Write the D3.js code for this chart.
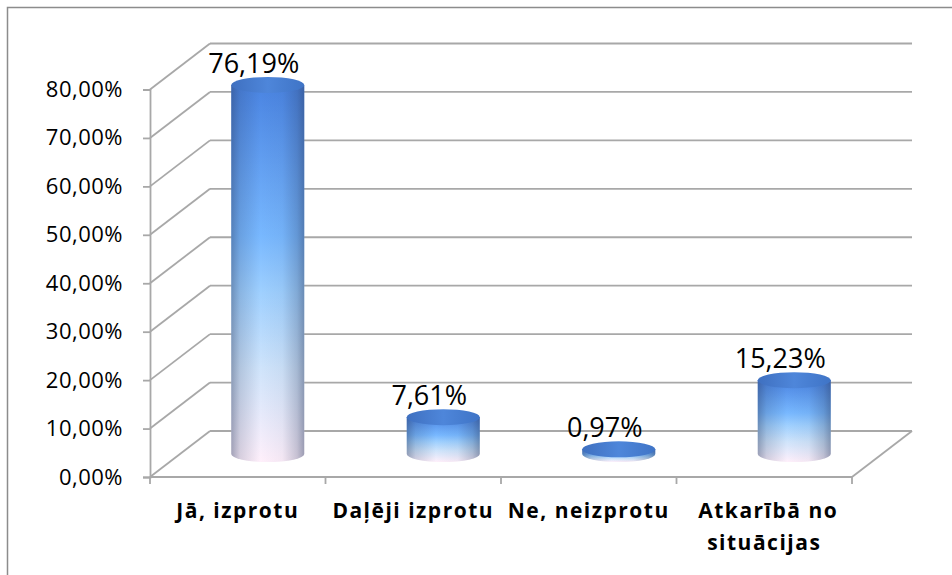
<!DOCTYPE html>
<html>
<head>
<meta charset="utf-8">
<script src="https://cdn.jsdelivr.net/npm/d3@7"></script>
<style>
  body { margin: 0; background: #fff; }
  svg { display: block; font-family: "Open Sans", sans-serif; }
</style>
</head>
<body>
<svg width="952" height="575"></svg>
<script>
// chart data
const categories = ['Jā, izprotu', 'Daļēji izprotu', 'Ne, neizprotu', 'Atkarībā no situācijas'];
const values = [0.7619, 0.0761, 0.0097, 0.1523];
const valueLabels = ['76,19%', '7,61%', '0,97%', '15,23%'];
const yTicks = [0, 0.1, 0.2, 0.3, 0.4, 0.5, 0.6, 0.7, 0.8];

const svg = d3.select('svg');

// 3d depth offset of the back wall
const dx = 60, dy = -46;

const x = d3.scaleBand()
    .domain(categories)
    .range([150, 852]);

const y = d3.scaleLinear()
    .domain([0, 0.8])
    .range([477, 89.5]);

const fmt = d => d3.format('.2f')(d * 100).replace('.', ',') + '%';

// outer border
svg.append('rect')
    .attr('x', 7.5).attr('y', 7.5)
    .attr('width', 1000).attr('height', 1000)
    .attr('fill', '#fff')
    .attr('stroke', '#8c8c8c')
    .attr('stroke-width', 1.5);

const gridColor = '#a8a8a8';
const grid = svg.append('g')
    .attr('stroke', gridColor)
    .attr('stroke-width', 1.8)
    .attr('fill', 'none');

// back wall lines
grid.selectAll('.back')
    .data(yTicks)
    .join('line')
    .attr('x1', x.range()[0] + dx).attr('x2', x.range()[1] + dx)
    .attr('y1', d => y(d) + dy).attr('y2', d => y(d) + dy);

// side wall diagonals
grid.selectAll('.side')
    .data(yTicks)
    .join('line')
    .attr('class', 'side')
    .attr('x1', x.range()[0]).attr('x2', x.range()[0] + dx)
    .attr('y1', d => y(d)).attr('y2', d => y(d) + dy);

// floor front edge and right edge
grid.append('line')
    .attr('x1', x.range()[0]).attr('x2', x.range()[1])
    .attr('y1', y(0)).attr('y2', y(0));
grid.append('line')
    .attr('x1', x.range()[1]).attr('x2', x.range()[1] + dx)
    .attr('y1', y(0)).attr('y2', y(0) + dy);

// category boundary ticks
grid.selectAll('.ctick')
    .data(categories.map(c => x(c)).concat([x.range()[1]]))
    .join('line')
    .attr('x1', d => d).attr('x2', d => d)
    .attr('y1', y(0)).attr('y2', y(0) + 7);

// y axis
const yAxis = svg.append('g')
    .attr('transform', `translate(${x.range()[0]},0)`)
    .call(d3.axisLeft(y).tickValues(yTicks).tickFormat(fmt).tickSize(7).tickPadding(20));
yAxis.select('.domain').attr('stroke', gridColor).attr('stroke-width', 1.8);
yAxis.selectAll('.tick line').attr('stroke', gridColor).attr('stroke-width', 1.8);
yAxis.selectAll('.tick text')
    .attr('font-family', '"Open Sans", sans-serif')
    .attr('font-size', 22)
    .attr('letter-spacing', 0.5)
    .attr('fill', '#000');

// x axis labels
const xAxis = svg.append('g')
    .attr('transform', `translate(0,${y(0)})`)
    .call(d3.axisBottom(x).tickSize(0).tickPadding(26));
xAxis.select('.domain').remove();
xAxis.selectAll('.tick text')
    .attr('font-family', '"Open Sans", sans-serif')
    .attr('font-size', 21)
    .attr('font-weight', 700)
    .attr('letter-spacing', 1.5)
    .attr('fill', '#000')
    .each(function(d) {
        const t = d3.select(this);
        if (d === 'Atkarībā no situācijas') {
            t.text(null);
            t.append('tspan').attr('x', 4).text('Atkarībā no');
            t.append('tspan').attr('x', 0).attr('dy', 32).text('situācijas');
        }
    });

// gradients
const defs = svg.append('defs');
const bodyGrad = defs.append('linearGradient')
    .attr('id', 'bodyGrad')
    .attr('x1', 0).attr('y1', 0).attr('x2', 0).attr('y2', 1);
[[0, '#4a84e2'], [0.4, '#78b8ff'], [0.55, '#9fd0ff'], [0.75, '#cfe4fb'], [1, '#fff0fb']]
    .forEach(s => bodyGrad.append('stop').attr('offset', s[0]).attr('stop-color', s[1]));

const shadeGrad = defs.append('linearGradient')
    .attr('id', 'shadeGrad')
    .attr('x1', 0).attr('y1', 0).attr('x2', 1).attr('y2', 0);
[[0, 0.42], [0.12, 0.18], [0.4, 0], [0.7, 0.05], [0.9, 0.25], [1, 0.45]]
    .forEach(s => shadeGrad.append('stop').attr('offset', s[0])
        .attr('stop-color', '#27365a').attr('stop-opacity', s[1]));

const topGrad = defs.append('linearGradient')
    .attr('id', 'topGrad')
    .attr('x1', 0).attr('y1', 0).attr('x2', 1).attr('y2', 0);
[[0, '#3f70c0'], [0.5, '#4e86da'], [1, '#3f74c6']]
    .forEach(s => topGrad.append('stop').attr('offset', s[0]).attr('stop-color', s[1]));

// cylinders
const rx = 36.5, ry = 8;
const cx = d => x(d) + x.bandwidth() / 2 + dx / 2;
const bars = svg.append('g')
    .selectAll('g')
    .data(categories.map((c, i) => ({ c, v: values[i], label: valueLabels[i] })))
    .join('g');

const bodyPath = d => {
    const x0 = cx(d.c) - rx, x1 = cx(d.c) + rx;
    const yt = y(d.v) + dy / 2, yb = y(0) + dy / 2;
    return `M${x0},${yt}L${x0},${yb}A${rx},${ry} 0 0 0 ${x1},${yb}L${x1},${yt}Z`;
};

bars.append('path').attr('d', bodyPath).attr('fill', 'url(#bodyGrad)');
bars.append('path').attr('d', bodyPath).attr('fill', 'url(#shadeGrad)');
bars.append('ellipse')
    .attr('cx', d => cx(d.c))
    .attr('cy', d => y(d.v) + dy / 2)
    .attr('rx', rx).attr('ry', ry)
    .attr('fill', 'url(#topGrad)');

// value labels
bars.append('text')
    .attr('x', d => cx(d.c) - 14)
    .attr('y', d => y(d.v) + dy / 2 - 12)
    .attr('text-anchor', 'middle')
    .attr('font-size', 27)
    .attr('fill', '#000')
    .text(d => d.label);
</script>
</body>
</html>
